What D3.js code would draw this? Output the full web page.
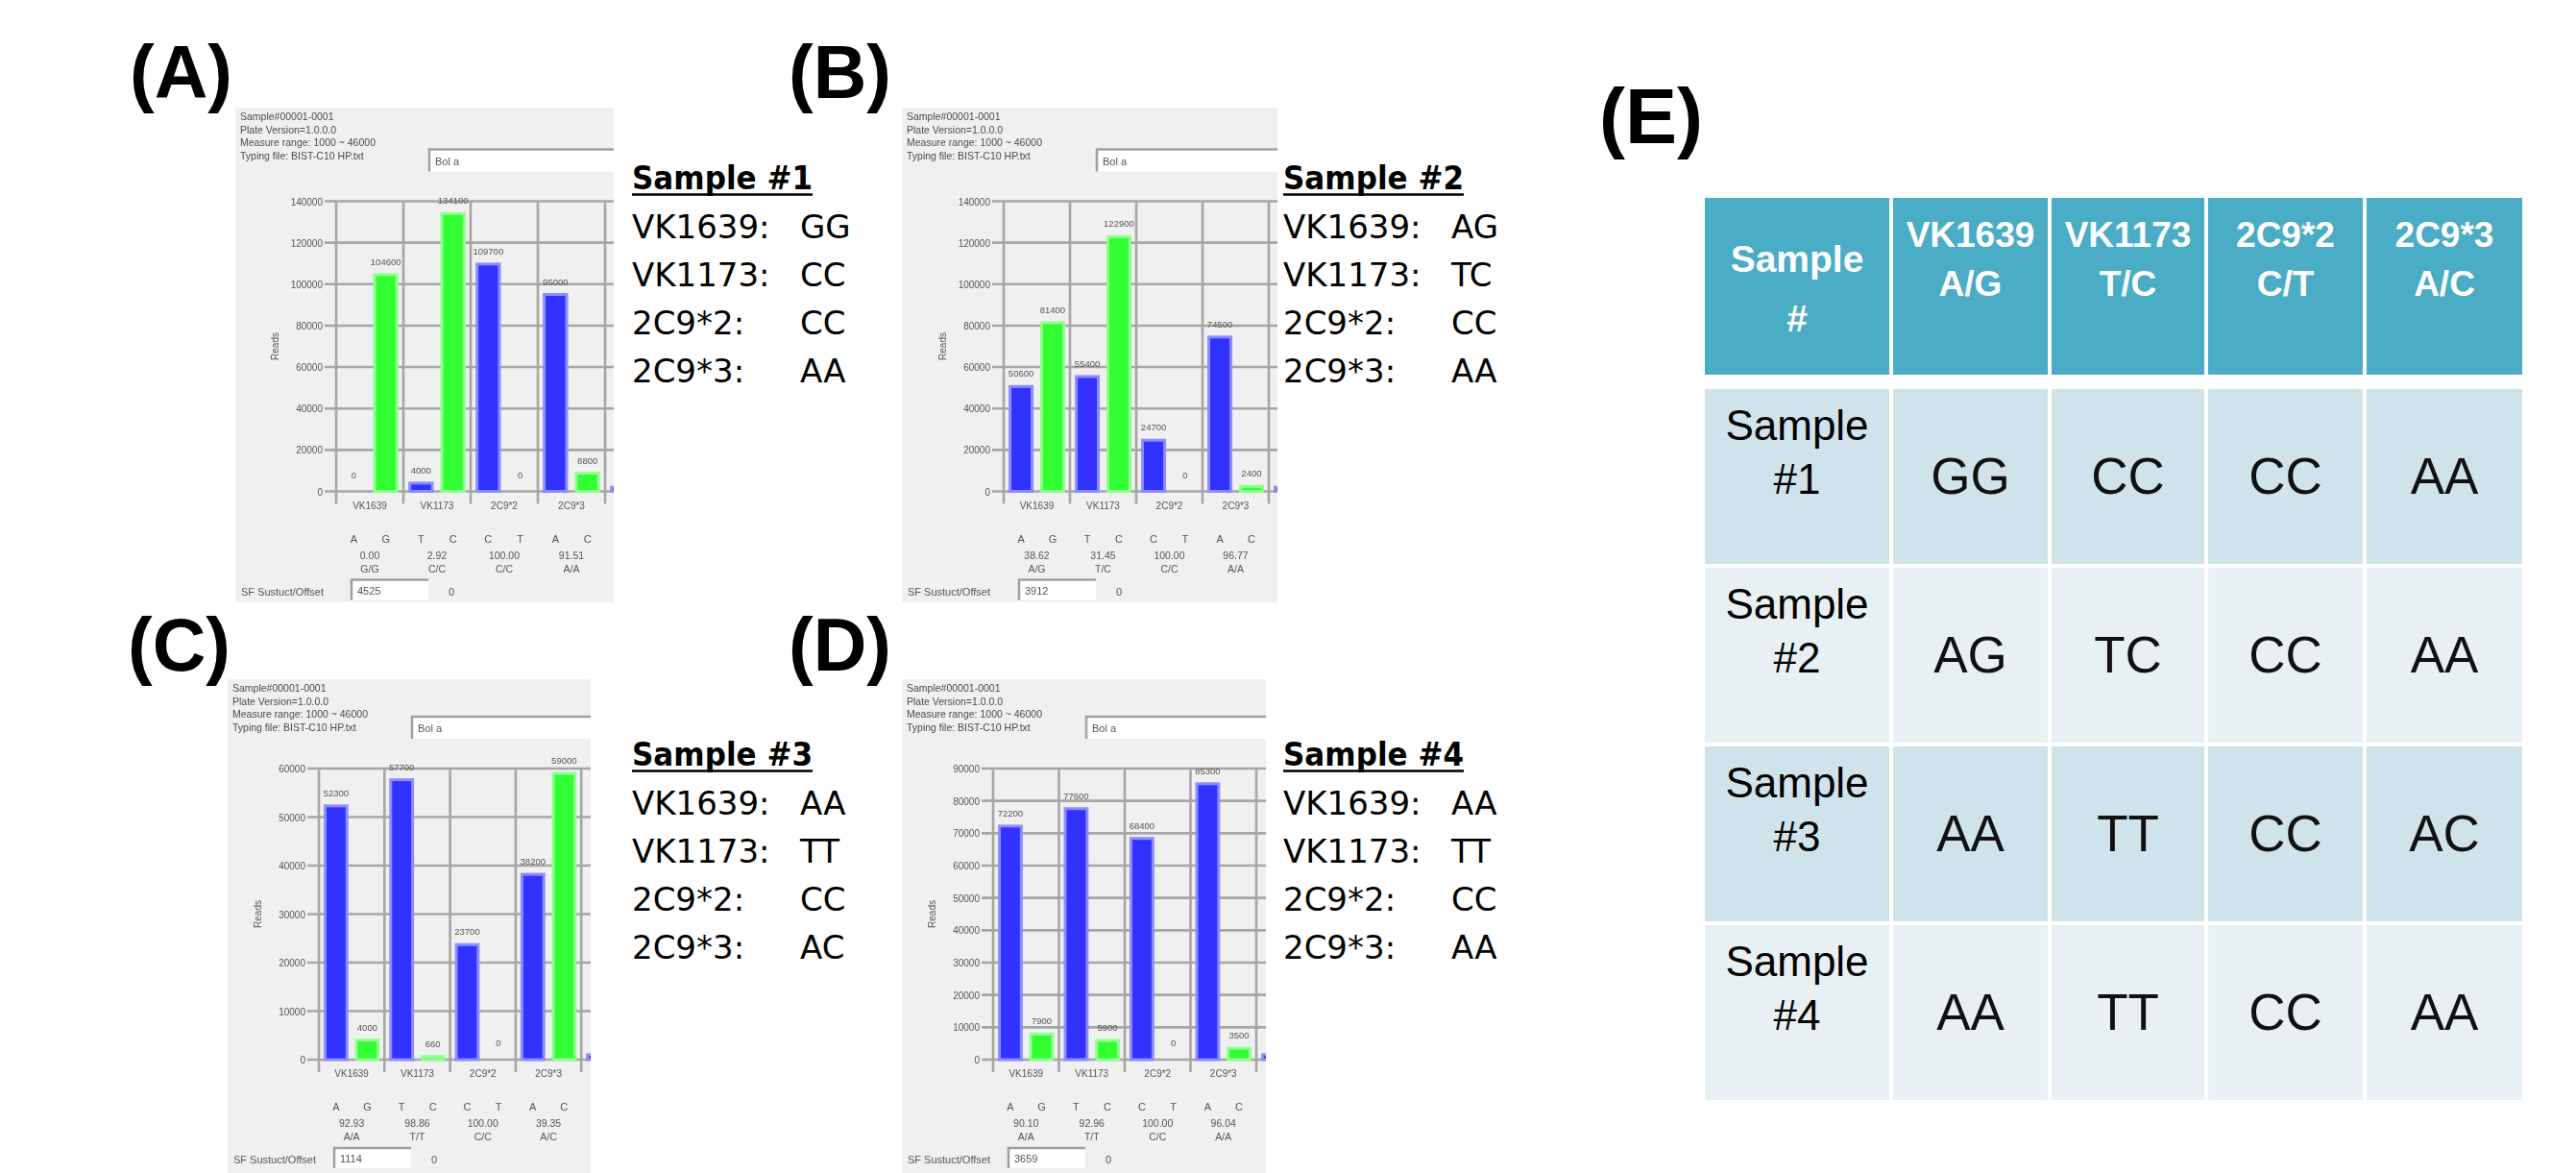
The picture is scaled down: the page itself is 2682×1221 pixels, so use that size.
<!DOCTYPE html>
<html><head><meta charset="utf-8">
<script src="https://cdn.jsdelivr.net/npm/d3@7"></script>
<style>html,body{margin:0;padding:0;background:#fff;} svg{display:block}</style>
</head><body>
<svg id="fig" width="2682" height="1221"></svg>
<script>
// ---------------- data ----------------
const categories = ["VK1639", "VK1173", "2C9*2", "2C9*3", ""];
const alleles = [["A", "G"], ["T", "C"], ["C", "T"], ["A", "C"], ["", ""]];

const s1First  = [0, 4000, 109700, 95000, 2000];
const s1Second = [104600, 134100, 0, 8800, 0];
const s2First  = [50600, 55400, 24700, 74500, 2000];
const s2Second = [81400, 122900, 0, 2400, 0];
const s3First  = [52300, 57700, 23700, 38200, 1000];
const s3Second = [4000, 660, 0, 59000, 0];
const s4First  = [72200, 77600, 68400, 85300, 1500];
const s4Second = [7900, 5900, 0, 3500, 0];

const s1Pct = ["0.00", "2.92", "100.00", "91.51"];
const s2Pct = ["38.62", "31.45", "100.00", "96.77"];
const s3Pct = ["92.93", "98.86", "100.00", "39.35"];
const s4Pct = ["90.10", "92.96", "100.00", "96.04"];

const s1Calls = ["G/G", "C/C", "C/C", "A/A"];
const s2Calls = ["A/G", "T/C", "C/C", "A/A"];
const s3Calls = ["A/A", "T/T", "C/C", "A/C"];
const s4Calls = ["A/A", "T/T", "C/C", "A/A"];

const yMaxes = [140000, 140000, 60000, 90000];
const yStepValues = [20000, 20000, 10000, 10000];
const offsetValues = ["4525", "3912", "1114", "3659"];
const headerLines = ["Sample#00001-0001", "Plate Version=1.0.0.0", "Measure range: 1000 ~ 46000", "Typing file: BIST-C10 HP.txt"];

const markerNames = ["VK1639:", "VK1173:", "2C9*2:", "2C9*3:"];
const sampleTitles = ["Sample #1", "Sample #2", "Sample #3", "Sample #4"];
const genotypes1 = ["GG", "CC", "CC", "AA"];
const genotypes2 = ["AG", "TC", "CC", "AA"];
const genotypes3 = ["AA", "TT", "CC", "AC"];
const genotypes4 = ["AA", "TT", "CC", "AA"];

const tableHeaderLine1 = ["Sample", "VK1639", "VK1173", "2C9*2", "2C9*3"];
const tableHeaderLine2 = ["#", "A/G", "T/C", "C/T", "A/C"];
const tableRowLabel2 = ["#1", "#2", "#3", "#4"];
const panelLetters = ["(A)", "(B)", "(C)", "(D)", "(E)"];

// ---------------- layout ----------------
const firstSeries = [s1First, s2First, s3First, s4First];
const secondSeries = [s1Second, s2Second, s3Second, s4Second];
const pcts = [s1Pct, s2Pct, s3Pct, s4Pct];
const calls = [s1Calls, s2Calls, s3Calls, s4Calls];
const genotypes = [genotypes1, genotypes2, genotypes3, genotypes4];

const layouts = [
  {bg: [245, 112, 639, 627], left: 350, top: 209.5, zero: 511.5, gw: 70, text: [658, 197]},
  {bg: [939, 112, 1330, 627], left: 1045, top: 209.5, zero: 511.5, gw: 69, text: [1336, 197]},
  {bg: [237, 707, 615, 1221], left: 332, top: 800, zero: 1103, gw: 68.3, text: [658, 797]},
  {bg: [939, 707, 1318, 1221], left: 1034, top: 800, zero: 1103, gw: 68.5, text: [1336, 797]}
];
const letterPos = [[135, 102, 77], [821, 102, 77], [133, 698, 77], [821, 698, 77], [1665, 149, 81]];

const svg = d3.select("#fig");
const defs = svg.append("defs");
defs.append("filter").attr("id", "soft").attr("x", "-2%").attr("y", "-2%").attr("width", "104%").attr("height", "104%")
  .append("feGaussianBlur").attr("stdDeviation", 0.75);

const tiny = "'Liberation Sans', Arial, sans-serif";

// ---------------- panel letters ----------------
panelLetters.forEach((t, i) => {
  svg.append("text").attr("x", letterPos[i][0]).attr("y", letterPos[i][1])
    .attr("font-family", "'Liberation Sans', Arial, sans-serif").attr("font-weight", "bold")
    .attr("font-size", letterPos[i][2]).attr("fill", "#000").text(t);
});

// ---------------- bar panels ----------------
layouts.forEach((L, i) => {
  const [bx0, by0, bx1, by1] = L.bg;
  defs.append("clipPath").attr("id", "clip" + i)
    .append("rect").attr("x", bx0).attr("y", by0).attr("width", bx1 - bx0).attr("height", by1 - by0);
  const g = svg.append("g").attr("clip-path", `url(#clip${i})`);
  const inner = g.append("g").attr("filter", "url(#soft)");
  inner.append("rect").attr("x", bx0).attr("y", by0).attr("width", bx1 - bx0).attr("height", by1 - by0).attr("fill", "#f0f0f0");

  // header info lines
  headerLines.forEach((t, k) => {
    inner.append("text").attr("x", bx0 + 5).attr("y", by0 + 13 + k * 13.5)
      .attr("font-family", tiny).attr("font-size", 10.5).attr("fill", "#4a4a4a").text(t);
  });
  // text box
  const tbx = L.left + 97, tby = L.top - 54;
  inner.append("rect").attr("x", tbx).attr("y", tby).attr("width", bx1 - tbx + 5).attr("height", 23).attr("fill", "#fff");
  inner.append("path").attr("d", `M${tbx},${tby + 23}V${tby}H${bx1 + 5}`).attr("stroke", "#a0a0a0").attr("stroke-width", 2.5).attr("fill", "none");
  inner.append("text").attr("x", tbx + 6).attr("y", tby + 16).attr("font-family", tiny).attr("font-size", 11).attr("fill", "#555").text("Bol a");

  // scales
  const y = d3.scaleLinear().domain([0, yMaxes[i]]).range([L.zero, L.top]);
  const x = d3.scaleBand().domain(categories).range([L.left, L.left + L.gw * categories.length]);
  const x1 = d3.scaleBand().domain([0, 1]).range([0, x.bandwidth()]).paddingInner(0.3).paddingOuter(0.2);
  const ticks = d3.range(0, yMaxes[i] + 1, yStepValues[i]);

  // horizontal grid
  inner.selectAll(null).data(ticks).enter().append("line")
    .attr("x1", L.left - 12).attr("x2", bx1 + 5)
    .attr("y1", d => y(d)).attr("y2", d => y(d))
    .attr("stroke", "#a6a6a6").attr("stroke-width", 2.6);
  // vertical grid
  const vx = categories.map(c => x(c)).concat([x.range()[1]]);
  inner.selectAll(null).data(vx).enter().append("line")
    .attr("x1", d => d).attr("x2", d => d)
    .attr("y1", L.top).attr("y2", L.zero + 13)
    .attr("stroke", "#a6a6a6").attr("stroke-width", 2.6);
  // tick labels
  inner.selectAll(null).data(ticks).enter().append("text")
    .attr("x", L.left - 14).attr("y", d => y(d) + 4)
    .attr("text-anchor", "end").attr("font-family", tiny).attr("font-size", 10).attr("fill", "#555")
    .text(d => d);
  // Reads label
  inner.append("text").attr("transform", `translate(${L.left - 60},${(L.top + L.zero) / 2}) rotate(-90)`)
    .attr("text-anchor", "middle").attr("font-family", tiny).attr("font-size", 10).attr("fill", "#555").text("Reads");

  // bars
  const pairs = [];
  categories.forEach((c, k) => {
    pairs.push({c, k, s: 0, v: firstSeries[i][k]});
    pairs.push({c, k, s: 1, v: secondSeries[i][k]});
  });
  const bw = x1.bandwidth();
  inner.selectAll(null).data(pairs.filter(p => p.v > 0)).enter().append("rect")
    .attr("x", p => x(p.c) + x1(p.s)).attr("width", bw)
    .attr("y", p => y(p.v)).attr("height", p => L.zero - y(p.v))
    .attr("fill", p => p.s === 0 ? "#3030ff" : "#33ff33")
    .attr("stroke", p => p.s === 0 ? "#8c8cff" : "#90ff90").attr("stroke-width", 3);
  // value labels
  inner.selectAll(null).data(pairs.filter(p => p.c !== "" || p.s === 0)).enter().append("text")
    .attr("x", p => x(p.c) + x1(p.s) + bw / 2)
    .attr("y", p => p.v > 0 ? y(p.v) - 10 : L.zero - 14)
    .attr("text-anchor", "middle").attr("font-family", tiny).attr("font-size", 9.5).attr("fill", "#555")
    .text(p => p.c === "" ? "0" : Math.round(p.v));

  // category labels
  inner.selectAll(null).data(categories).enter().append("text")
    .attr("x", c => x(c) + x.bandwidth() / 2).attr("y", L.zero + 18)
    .attr("text-anchor", "middle").attr("font-family", tiny).attr("font-size", 10).attr("fill", "#555").text(c => c);
  // allele letters, percentages, calls
  categories.slice(0, 4).forEach((c, k) => {
    [0, 1].forEach(s => {
      inner.append("text").attr("x", x(c) + x1(s) + bw / 2).attr("y", L.zero + 53)
        .attr("text-anchor", "middle").attr("font-family", tiny).attr("font-size", 11).attr("fill", "#555").text(alleles[k][s]);
    });
    inner.append("text").attr("x", x(c) + x.bandwidth() / 2).attr("y", L.zero + 70)
      .attr("text-anchor", "middle").attr("font-family", tiny).attr("font-size", 10.5).attr("fill", "#555").text(pcts[i][k]);
    inner.append("text").attr("x", x(c) + x.bandwidth() / 2).attr("y", L.zero + 84)
      .attr("text-anchor", "middle").attr("font-family", tiny).attr("font-size", 10.5).attr("fill", "#555").text(calls[i][k]);
  });
  // SF row
  inner.append("text").attr("x", bx0 + 6).attr("y", L.zero + 108).attr("font-family", tiny).attr("font-size", 11).attr("fill", "#555")
    .text("SF  Sustuct/Offset");
  inner.append("rect").attr("x", L.left + 16).attr("y", L.zero + 92).attr("width", 80).attr("height", 21).attr("fill", "#fff");
  inner.append("path").attr("d", `M${L.left + 16},${L.zero + 113}V${L.zero + 92}H${L.left + 96}`).attr("stroke", "#a0a0a0").attr("stroke-width", 2.5).attr("fill", "none");
  inner.append("text").attr("x", L.left + 22).attr("y", L.zero + 107).attr("font-family", tiny).attr("font-size", 11).attr("fill", "#555").text(offsetValues[i]);
  inner.append("text").attr("x", L.left + 117).attr("y", L.zero + 108).attr("font-family", tiny).attr("font-size", 11).attr("fill", "#555").text("0");

  // sample text block
  const [tx, ty] = L.text;
  const tg = svg.append("g").attr("font-family", "'DejaVu Sans', Verdana, sans-serif").attr("fill", "#000");
  tg.append("text").attr("x", tx).attr("y", ty).attr("font-size", 33).attr("font-weight", "bold")
    .attr("textLength", 188).attr("lengthAdjust", "spacingAndGlyphs").text(sampleTitles[i]);
  tg.append("line").attr("x1", tx).attr("x2", tx + 188).attr("y1", ty + 5.5).attr("y2", ty + 5.5).attr("stroke", "#000").attr("stroke-width", 2.5);
  markerNames.forEach((m, k) => {
    tg.append("text").attr("x", tx).attr("y", ty + 51 + k * 50).attr("font-size", 34).text(m);
    tg.append("text").attr("x", tx + 175).attr("y", ty + 51 + k * 50).attr("font-size", 34).text(genotypes[i][k]);
  });
});

// ---------------- table (E) ----------------
const colEdges = [1775, 1969, 2134, 2297, 2462, 2626];
const gap = 4;
const header = {top: 206, bottom: 390};
const rowTop0 = 405, rowPitch = 186, rowH = 182;
const tg = svg.append("g");
const tableFont = "'Liberation Sans', Arial, sans-serif";
for (let c = 0; c < 5; c++) {
  const x0 = colEdges[c] + (c === 0 ? 0 : gap / 2), x1 = colEdges[c + 1] - (c === 4 ? 0 : gap / 2);
  const cx = (x0 + x1) / 2;
  tg.append("rect").attr("x", x0).attr("y", header.top).attr("width", x1 - x0).attr("height", header.bottom - header.top).attr("fill", "#4bacc6");
  if (c === 0) {
    tg.append("text").attr("x", cx).attr("y", 283).attr("text-anchor", "middle").attr("font-family", tableFont)
      .attr("font-weight", "bold").attr("font-size", 39).attr("fill", "#fff").text(tableHeaderLine1[c]);
    tg.append("text").attr("x", cx).attr("y", 345).attr("text-anchor", "middle").attr("font-family", tableFont)
      .attr("font-weight", "bold").attr("font-size", 39).attr("fill", "#fff").text(tableHeaderLine2[c]);
  } else {
    tg.append("text").attr("x", cx).attr("y", 257).attr("text-anchor", "middle").attr("font-family", tableFont)
      .attr("font-weight", "bold").attr("font-size", 37).attr("fill", "#fff").text(tableHeaderLine1[c]);
    tg.append("text").attr("x", cx).attr("y", 308).attr("text-anchor", "middle").attr("font-family", tableFont)
      .attr("font-weight", "bold").attr("font-size", 37).attr("fill", "#fff").text(tableHeaderLine2[c]);
  }
  genotypes.forEach((gt, r) => {
    const ry = rowTop0 + r * rowPitch;
    tg.append("rect").attr("x", x0).attr("y", ry).attr("width", x1 - x0).attr("height", rowH)
      .attr("fill", r % 2 === 0 ? "#d0e3ea" : "#e8f0f3");
    if (c === 0) {
      tg.append("text").attr("x", cx).attr("y", ry + 53).attr("text-anchor", "middle").attr("font-family", tableFont)
        .attr("font-size", 44).attr("fill", "#000").text("Sample");
      tg.append("text").attr("x", cx).attr("y", ry + 109).attr("text-anchor", "middle").attr("font-family", tableFont)
        .attr("font-size", 44).attr("fill", "#000").text(tableRowLabel2[r]);
    } else {
      tg.append("text").attr("x", cx).attr("y", ry + 109).attr("text-anchor", "middle").attr("font-family", tableFont)
        .attr("font-size", 53).attr("fill", "#111").text(gt[c - 1]);
    }
  });
}
</script>
</body></html>
